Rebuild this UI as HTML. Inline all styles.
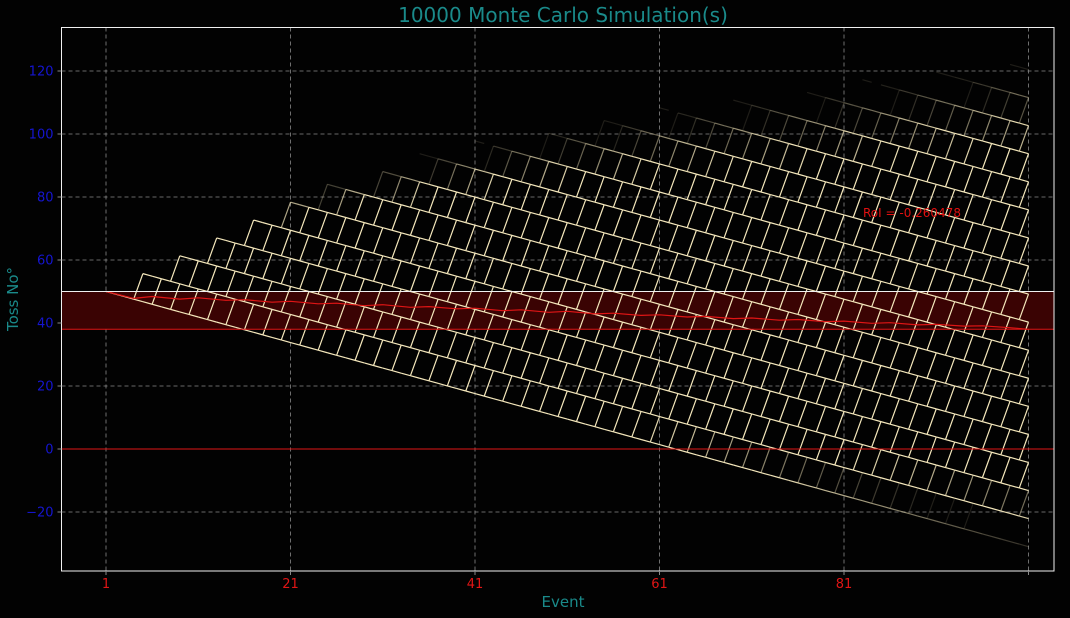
<!DOCTYPE html>
<html><head><meta charset="utf-8"><style>
html,body{margin:0;padding:0;background:#020202;}
svg{display:block;font-family:"DejaVu Sans","Liberation Sans",sans-serif;}
</style></head><body>
<svg id="chart" width="1070" height="618" viewBox="0 0 1070 618">
<rect x="0" y="0" width="1070" height="618" fill="#020202"/>
<g id="grid"></g>
<g id="band"></g>
<g id="paths"></g>
<g id="mean"></g>
<g id="axes"></g>
<text x="563" y="22" text-anchor="middle" font-size="20" fill="#1a8a8a">10000 Monte Carlo Simulation(s)</text>
<text x="563" y="607" text-anchor="middle" font-size="15" fill="#1a8a8a">Event</text>
<text x="18" y="299" text-anchor="middle" font-size="15" fill="#1a8a8a" transform="rotate(-90 18 299)">Toss No°</text>
<text x="863" y="217" font-size="12" fill="#e01010">RoI = -0.260478</text>
</svg>
<script>
const xTicks = [1, 21, 41, 61, 81, 101];
const xTickLabels = ["1", "21", "41", "61", "81", ""];
const yTicks = [-20, 0, 20, 40, 60, 80, 100, 120];
const yTickLabels = ["\u221220", "0", "20", "40", "60", "80", "100", "120"];
const startValue = [50];
const lossStep = [-0.81];
const winStep = [8.1];
const winProb = [0.19];
const numSims = [10000];
const numEvents = [101];
const bandRange = [38, 50];
const meanEvents = [1, 4, 6, 9, 11, 14, 16, 19, 21, 24, 26, 29, 31, 34, 36, 39, 41, 44, 46, 49, 51, 54, 56, 59, 61, 64, 66, 69, 71, 74, 76, 79, 81, 84, 86, 89, 91, 94, 96, 99, 101];
const meanValues = [50, 47.8, 48.4, 47.6, 48.0, 47.2, 47.4, 46.6, 46.9, 46.1, 46.3, 45.5, 45.8, 45.0, 45.2, 44.5, 44.7, 43.9, 44.2, 43.4, 43.7, 42.9, 43.1, 42.4, 42.6, 41.9, 42.1, 41.4, 41.6, 40.9, 41.1, 40.4, 40.6, 39.9, 40.1, 39.4, 39.6, 39.0, 39.1, 38.5, 38.0];

const L = 61.5, R = 1054, T = 27.5, B = 571;
function xs(e){ return 106 + (e - 1) * 9.225; }
function ys(v){ return 449 - v * 3.15; }
const NS = "http://www.w3.org/2000/svg";
function mk(tag, attrs, parent){ const el = document.createElementNS(NS, tag); for (const k in attrs) el.setAttribute(k, attrs[k]); parent.appendChild(el); return el; }

const grid = document.getElementById('grid');
xTicks.forEach((t, i) => {
  const l = mk('line', {x1: xs(t), x2: xs(t), y1: T, y2: B, stroke: '#8a8a8a', 'stroke-width': 0.8, 'stroke-dasharray': '4,3'}, grid);
  
  
});
yTicks.forEach((t, i) => {
  const l = mk('line', {x1: L, x2: R, y1: ys(t), y2: ys(t), stroke: '#8a8a8a', 'stroke-width': 0.8, 'stroke-dasharray': '4,3'}, grid);
  
  
});

const band = document.getElementById('band');
const br = mk('rect', {x: L, y: ys(bandRange[1]), width: R - L, height: ys(bandRange[0]) - ys(bandRange[1]), fill: '#3a0303'}, band);



const paths = document.getElementById('paths');
const p = winProb[0];
function isOpp(e){ return e >= 4 && e % 2 === 0; }
let counts = {'0|0': numSims[0]};
const segMap = {};
function addSeg(e, n, win, c){ const k = e + '|' + n + '|' + win; segMap[k] = (segMap[k] || 0) + c; }
for (let e = 1; e < numEvents[0]; e++) {
  const next = {};
  const opp = isOpp(e);
  for (const key in counts) {
    const parts = key.split('|');
    const n = +parts[0], lw = +parts[1], c = counts[key];
    let cw = 0, cl = c;
    if (opp) {
      if (lw) { cl = c; next[n + '|0'] = (next[n + '|0'] || 0) + c; }
      else { cw = c * p; cl = c * (1 - p); next[n + '|0'] = (next[n + '|0'] || 0) + cl; next[(n + 1) + '|1'] = (next[(n + 1) + '|1'] || 0) + cw; }
    } else {
      next[n + '|' + lw] = (next[n + '|' + lw] || 0) + c;
    }
    if (cl > 0) addSeg(e, n, 0, cl);
    if (cw > 0) addSeg(e, n, 1, cw);
  }
  counts = next;
}
for (const k in segMap) {
  const parts = k.split('|');
  const e = +parts[0], n = +parts[1], win = +parts[2], c = segMap[k];
  if (c < 0.12) continue;
  const y = startValue[0] + (e - 1 - n) * lossStep[0] + n * winStep[0];
  const y2 = y + (win ? winStep[0] : lossStep[0]);
  const a = Math.max(0.12, Math.min(1, 0.4 + Math.log10(c + 0.2) / 1.4));
  const l = mk('line', {x1: xs(e), x2: xs(e + 1), y1: ys(y), y2: ys(y2), stroke: '#f5e8bc', 'stroke-opacity': a.toFixed(3), 'stroke-width': 1.2}, paths);
  
  
}

const mean = document.getElementById('mean');
const pts = meanEvents.map((e, i) => xs(e).toFixed(1) + ',' + ys(meanValues[i]).toFixed(1)).join(' ');
const ml = mk('polyline', {points: pts, fill: 'none', stroke: '#e01515', 'stroke-width': 1.2}, mean);



const axes = document.getElementById('axes');
const topL = mk('line', {x1: L, x2: R, y1: ys(bandRange[1]), y2: ys(bandRange[1]), stroke: '#f0f0f0', 'stroke-width': 1}, axes);


const lowL = mk('line', {x1: L, x2: R, y1: ys(bandRange[0]), y2: ys(bandRange[0]), stroke: '#e01515', 'stroke-width': 1}, axes);


const zl = mk('line', {x1: L, x2: R, y1: ys(0), y2: ys(0), stroke: '#e01515', 'stroke-width': 1}, axes);


const frame = mk('rect', {x: L, y: T, width: R - L, height: B - T, fill: 'none', stroke: '#f0f0f0', 'stroke-width': 1}, axes);


xTicks.forEach((t, i) => {
  const tk = mk('line', {x1: xs(t), x2: xs(t), y1: B, y2: B + 4, stroke: '#888', 'stroke-width': 1}, axes);
  
  
  const tx = mk('text', {x: xs(t), y: B + 17, 'text-anchor': 'middle', 'font-size': 13, fill: '#e01515'}, axes);
  tx.textContent = xTickLabels[i];
  
  
});
yTicks.forEach((t, i) => {
  const tk = mk('line', {x1: L - 4, x2: L, y1: ys(t), y2: ys(t), stroke: '#888', 'stroke-width': 1}, axes);
  
  
  const tx = mk('text', {x: L - 8, y: ys(t) + 4.5, 'text-anchor': 'end', 'font-size': 13, fill: '#1515d0'}, axes);
  tx.textContent = yTickLabels[i];
  
  
});
</script>
</body></html>
